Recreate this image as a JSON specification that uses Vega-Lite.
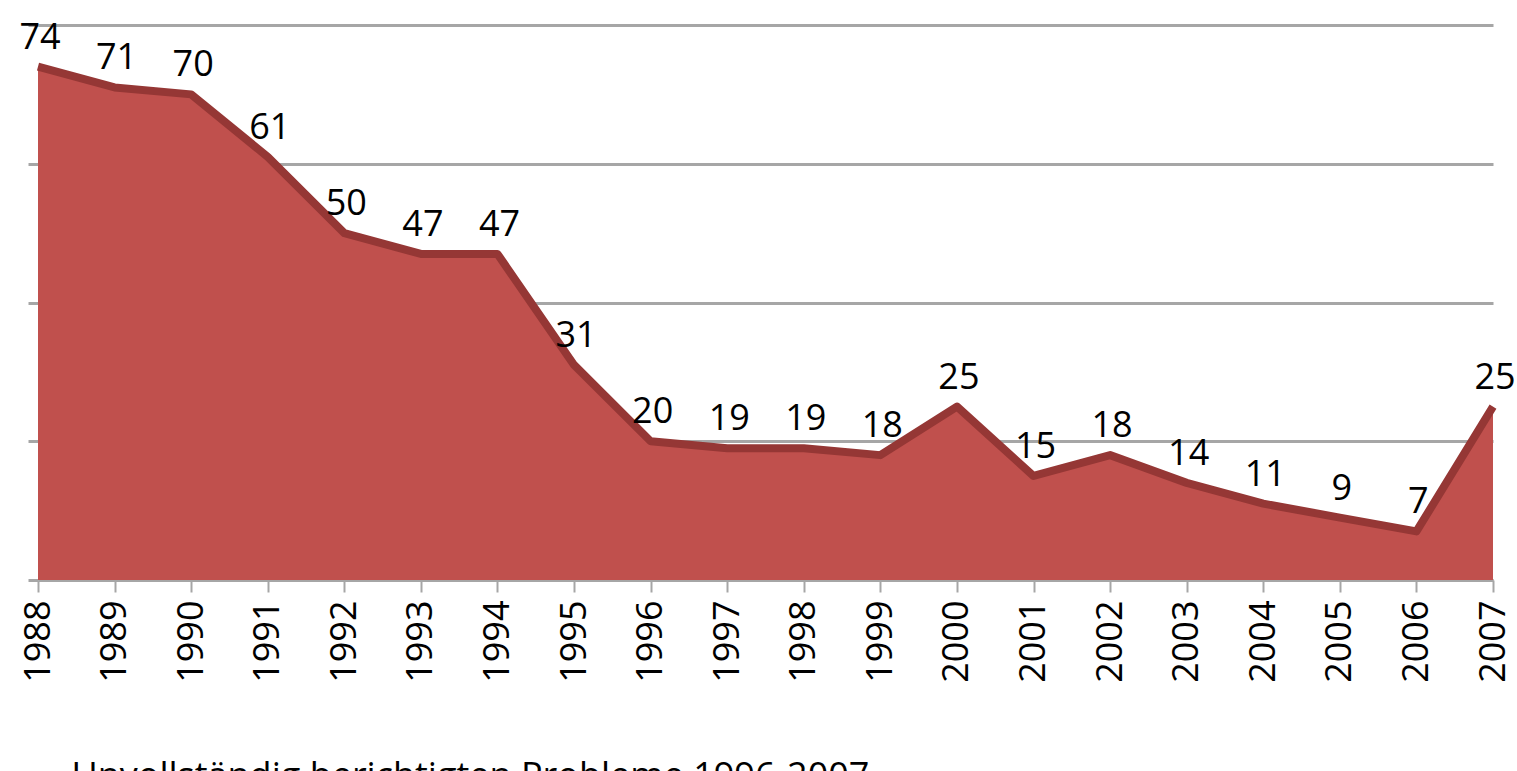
{
  "$schema": "https://vega.github.io/schema/vega-lite/v6.json",
  "width": 1455,
  "height": 555,
  "autosize": {"type": "none"},
  "padding": {"left": 38, "top": 25, "right": 24, "bottom": 191},
  "background": "white",
  "title": {
    "text": "Unvollständig berichtigten Probleme 1996-2007",
    "orient": "bottom",
    "anchor": "start",
    "font": "Open Sans",
    "fontSize": 36,
    "fontWeight": "normal",
    "color": "black",
    "dx": 52,
    "offset": 78
  },
  "data": {
    "values": [
      {"year": "1988", "value": 74},
      {"year": "1989", "value": 71},
      {"year": "1990", "value": 70},
      {"year": "1991", "value": 61},
      {"year": "1992", "value": 50},
      {"year": "1993", "value": 47},
      {"year": "1994", "value": 47},
      {"year": "1995", "value": 31},
      {"year": "1996", "value": 20},
      {"year": "1997", "value": 19},
      {"year": "1998", "value": 19},
      {"year": "1999", "value": 18},
      {"year": "2000", "value": 25},
      {"year": "2001", "value": 15},
      {"year": "2002", "value": 18},
      {"year": "2003", "value": 14},
      {"year": "2004", "value": 11},
      {"year": "2005", "value": 9},
      {"year": "2006", "value": 7},
      {"year": "2007", "value": 25}
    ]
  },
  "encoding": {
    "x": {
      "field": "year",
      "type": "ordinal",
      "scale": {"type": "point", "padding": 0},
      "axis": {
        "title": null,
        "labelAngle": -90,
        "labelAlign": "right",
        "labelBaseline": "middle",
        "labelFont": "Open Sans",
        "labelFontSize": 36,
        "labelColor": "black",
        "labelPadding": 8,
        "tickColor": "#A6A6A6",
        "tickWidth": 2,
        "tickSize": 12,
        "domainColor": "#A6A6A6",
        "domainWidth": 3,
        "grid": false
      }
    },
    "y": {
      "field": "value",
      "type": "quantitative",
      "scale": {"domain": [0, 80], "nice": false},
      "axis": {
        "title": null,
        "labels": false,
        "values": [0, 20, 40, 60, 80],
        "domain": false,
        "ticks": true,
        "tickSize": 10,
        "tickColor": "#A6A6A6",
        "tickWidth": 3,
        "grid": true,
        "gridColor": "#A6A6A6",
        "gridWidth": 3
      }
    }
  },
  "layer": [
    {"mark": {"type": "area", "color": "#C0504D", "opacity": 1, "interpolate": "linear"}},
    {"mark": {"type": "line", "color": "#953735", "strokeWidth": 8, "strokeJoin": "round"}},
    {
      "mark": {"type": "text", "font": "Open Sans", "fontSize": 36, "color": "black", "baseline": "bottom", "dy": -10, "dx": 2},
      "encoding": {"text": {"field": "value", "type": "quantitative"}}
    }
  ],
  "config": {"view": {"stroke": null}}
}
